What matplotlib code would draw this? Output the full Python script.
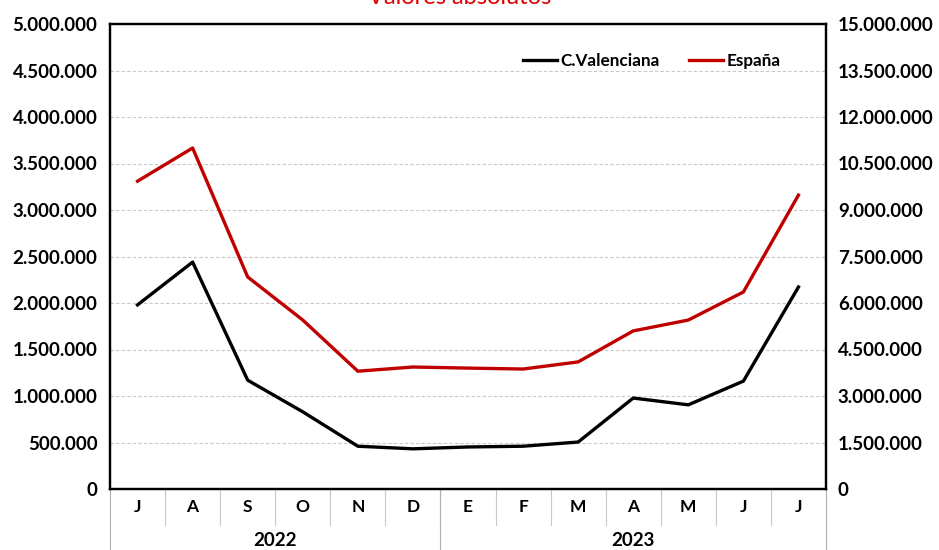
import numpy as np
import matplotlib
matplotlib.use("Agg")
import matplotlib.pyplot as plt
from matplotlib.ticker import FuncFormatter, MultipleLocator
from matplotlib.transforms import blended_transform_factory

# data
months = ["J", "A", "S", "O", "N", "D", "E", "F", "M", "A", "M", "J", "J"]
years = ["2022", "2023"]
year_spans = [(0, 5), (6, 12)]
valenciana = [1980000, 2440000, 1170000, 830000, 460000, 432000, 452000,
              460000, 505000, 978000, 905000, 1160000, 2172000]
espana = [9930000, 11000000, 6840000, 5450000, 3800000, 3935000, 3900000,
          3870000, 4100000, 5100000, 5450000, 6355000, 9480000]

plt.rcParams['font.family'] = ['Lato', 'DejaVu Sans']

def miles(v, pos):
    return "{:,}".format(int(v)).replace(",", ".")

fig = plt.figure(figsize=(9.39, 5.5), dpi=100)
ax = fig.add_axes([110/939, 1 - 489/550, 716/939, 465/550])
ax2 = ax.twinx()

x = np.arange(len(months))
l1, = ax.plot(x, valenciana, color="black", lw=2.4, label="C.Valenciana")
l2, = ax2.plot(x, espana, color="#C00000", lw=2.4, label="España")

ax.set_xlim(-0.5, len(months) - 0.5)
ax.set_ylim(0, 5000000)
ax2.set_ylim(0, 15000000)
ax.yaxis.set_major_locator(MultipleLocator(500000))
ax2.yaxis.set_major_locator(MultipleLocator(1500000))
ax.yaxis.set_major_formatter(FuncFormatter(miles))
ax2.yaxis.set_major_formatter(FuncFormatter(miles))
ax.grid(axis="y", color="#c8c8c8", ls=(0, (3, 2)), lw=0.8)
ax.set_axisbelow(True)

for a in (ax, ax2):
    a.tick_params(axis="y", length=0, labelsize=13.5)
    for lab in a.get_yticklabels():
        lab.set_fontweight("bold")
    for s in a.spines.values():
        s.set_linewidth(1.6)
        s.set_color("black")
ax.set_xticks([])
ax.tick_params(axis="y", pad=9)
ax2.tick_params(axis="y", pad=8.5)

# category axis below the plot
trans = blended_transform_factory(ax.transData, ax.transAxes)
for i, m in enumerate(months):
    ax.text(i, -0.038, m, transform=trans, ha="center", va="center",
            fontsize=12.5, fontweight="bold")
    if 0 < i:
        ax.plot([i - 0.5, i - 0.5], [0, -0.077], transform=trans,
                color="#c8c8c8", lw=0.8, clip_on=False)
for (a, b), y in zip(year_spans, years):
    ax.text((a + b) / 2, -0.11, y, transform=trans, ha="center",
            va="center", fontsize=13.5, fontweight="bold")
for xs in [-0.5, 5.5, 12.5]:
    ax.plot([xs, xs], [0, -0.14], transform=trans, color="#b0b0b0",
            lw=0.8, clip_on=False)

ax2.legend(handles=[l1, l2], loc="upper left", bbox_to_anchor=(0.555, 0.97),
           ncol=2, frameon=False, handlelength=2.0,
           handletextpad=0.2, columnspacing=1.7,
           prop={"weight": "bold", "size": 12.3})

fig.text(460/939, 1.005, "Valores absolutos", color="#E00000", fontsize=17,
         ha="center", va="center")

fig.savefig("out.png", dpi=100)
